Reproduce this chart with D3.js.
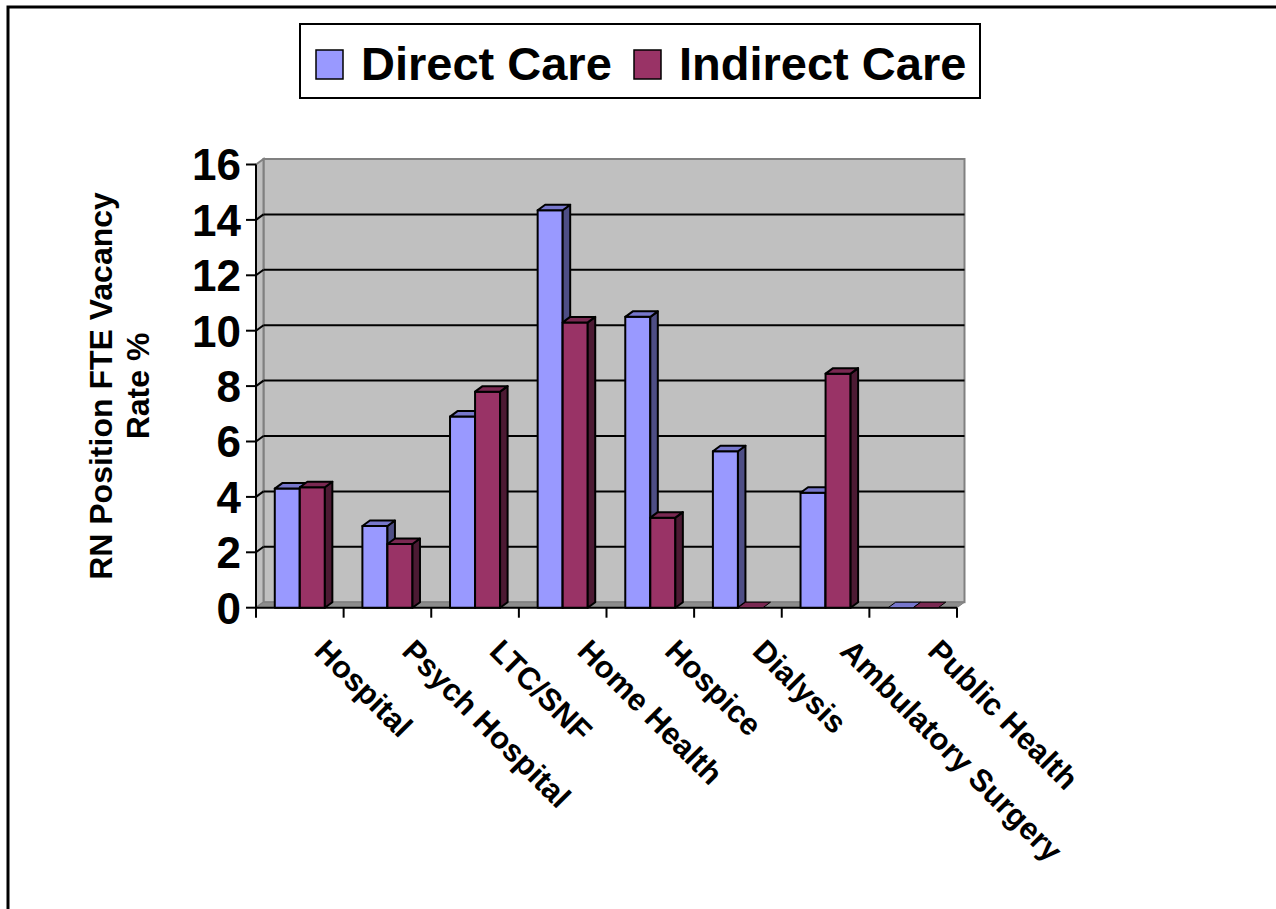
<!DOCTYPE html>
<html>
<head>
<style>
  body { margin: 0; background: #fff; }
  text { font-family: "Liberation Sans", Arial, sans-serif; font-weight: bold; fill: #000; }
</style>
</head>
<body>
<script src="https://d3js.org/d3.v7.min.js"></script>
<script>
// chart values
var categories = ["Hospital", "Psych Hospital", "LTC/SNF", "Home Health", "Hospice", "Dialysis", "Ambulatory Surgery", "Public Health"];
var seriesNames = ["Direct Care", "Indirect Care"];
var directCare = [4.3, 2.95, 6.9, 14.35, 10.5, 5.65, 4.15, 0];
var indirectCare = [4.35, 2.3, 7.8, 10.3, 3.25, 0, 8.45, 0];
var yTicks = [0, 2, 4, 6, 8, 10, 12, 14, 16];

var colors = {
  "Direct Care": { front: "#9999ff", top: "#7777cc", side: "#4e4e85" },
  "Indirect Care": { front: "#993366", top: "#7a2952", side: "#4c1a33" }
};

var W = 1276, H = 909;
var x0 = 256, x1 = 957;      // front floor edge
var y0 = 607.7, yTop = 164.5; // value 0 and 16 on the front plane
var dx = 7.5, dy = 5.5;       // depth offset

var svg = d3.select("body").append("svg")
  .attr("width", W)
  .attr("height", H);

// outer frame (left + top)
svg.append("path")
  .attr("d", "M8," + H + " L8,7 L" + W + ",7")
  .attr("fill", "none")
  .attr("stroke", "#000")
  .attr("stroke-width", 3);

var y = d3.scaleLinear().domain([0, 16]).range([y0, yTop]);
var xCat = d3.scaleBand().domain(categories).range([x0, x1]);
var xSub = d3.scaleBand().domain(seriesNames).range([0, xCat.bandwidth()])
  .paddingInner(0).paddingOuter(0.75);

// walls
svg.append("rect")
  .attr("x", x0 + dx).attr("y", yTop - dy)
  .attr("width", x1 - x0).attr("height", y0 - yTop)
  .attr("fill", "#c0c0c0")
  .attr("stroke", "#808080").attr("stroke-width", 2);

svg.append("polygon")
  .attr("points", [[x0, yTop], [x0 + dx, yTop - dy], [x0 + dx, y0 - dy], [x0, y0]].join(" "))
  .attr("fill", "#c0c0c0")
  .attr("stroke", "#808080").attr("stroke-width", 2);

svg.append("polygon")
  .attr("points", [[x0, y0], [x1, y0], [x1 + dx, y0 - dy], [x0 + dx, y0 - dy]].join(" "))
  .attr("fill", "#8c8c8c")
  .attr("stroke", "#808080").attr("stroke-width", 1);

// gridlines
var grid = svg.append("g");
yTicks.filter(function (d) { return d > 0 && d < 16; }).forEach(function (t) {
  grid.append("line")
    .attr("x1", x0 + dx).attr("x2", x1 + dx)
    .attr("y1", y(t) - dy).attr("y2", y(t) - dy)
    .attr("stroke", "#000").attr("stroke-width", 2);
  grid.append("line")
    .attr("x1", x0).attr("x2", x0 + dx)
    .attr("y1", y(t)).attr("y2", y(t) - dy)
    .attr("stroke", "#000").attr("stroke-width", 2);
});

// y axis
var yAxis = svg.append("g");
yAxis.append("line")
  .attr("x1", x0).attr("x2", x0)
  .attr("y1", yTop).attr("y2", y0)
  .attr("stroke", "#000").attr("stroke-width", 2);
yTicks.forEach(function (t) {
  yAxis.append("line")
    .attr("x1", x0 - 10).attr("x2", x0)
    .attr("y1", y(t)).attr("y2", y(t))
    .attr("stroke", "#000").attr("stroke-width", 2);
  yAxis.append("text")
    .attr("x", 241).attr("y", y(t))
    .attr("dy", "0.36em")
    .attr("text-anchor", "end")
    .style("font-size", "44px")
    .text(t);
});

// x axis
var xAxis = svg.append("g");
xAxis.append("line")
  .attr("x1", x0).attr("x2", x1)
  .attr("y1", y0).attr("y2", y0)
  .attr("stroke", "#000").attr("stroke-width", 2);
categories.concat(["_end"]).forEach(function (c, i) {
  var xx = i < categories.length ? xCat(c) : x1;
  xAxis.append("line")
    .attr("x1", xx).attr("x2", xx)
    .attr("y1", y0).attr("y2", y0 + 10)
    .attr("stroke", "#000").attr("stroke-width", 2);
});
categories.forEach(function (c) {
  var cx = xCat(c) + xCat.bandwidth() / 2 + 13;
  var cy = y0 + 45;
  xAxis.append("text")
    .attr("transform", "translate(" + cx + "," + cy + ") rotate(45)")
    .attr("text-anchor", "start")
    .style("font-size", "31px")
    .text(c);
});

// bars
var bars = svg.append("g");
categories.forEach(function (c, i) {
  var vals = [directCare[i], indirectCare[i]];
  seriesNames.forEach(function (s, j) {
    var col = colors[s];
    var bx = xCat(c) + xSub(s);
    var bw = xSub.bandwidth();
    var yv = y(vals[j]);
    var g = bars.append("g")
      .attr("stroke", "#000").attr("stroke-width", 2)
      .attr("stroke-linejoin", "round");
    if (vals[j] > 0) {
      g.append("rect")
        .attr("x", bx).attr("y", yv)
        .attr("width", bw).attr("height", y0 - yv)
        .attr("fill", col.front);
      g.append("polygon")
        .attr("points", [[bx + bw, yv], [bx + bw + dx, yv - dy], [bx + bw + dx, y0 - dy], [bx + bw, y0]].join(" "))
        .attr("fill", col.side);
    }
    g.append("polygon")
      .attr("points", [[bx, yv], [bx + dx, yv - dy], [bx + bw + dx, yv - dy], [bx + bw, yv]].join(" "))
      .attr("fill", col.top)
      .attr("stroke-width", vals[j] > 0 ? 2 : 1);
  });
});

// legend
var legend = svg.append("g");
legend.append("rect")
  .attr("x", 300).attr("y", 24)
  .attr("width", 680).attr("height", 74)
  .attr("fill", "#fff")
  .attr("stroke", "#000").attr("stroke-width", 2);
var legendX = [316, 634];
seriesNames.forEach(function (s, j) {
  legend.append("rect")
    .attr("x", legendX[j]).attr("y", 50)
    .attr("width", 27).attr("height", 29)
    .attr("fill", colors[s].front)
    .attr("stroke", "#000").attr("stroke-width", 1.5);
  legend.append("text")
    .attr("x", legendX[j] + 45).attr("y", 80)
    .style("font-size", "47px")
    .text(s);
});

// y axis title
var title = svg.append("text")
  .attr("transform", "translate(0,386) rotate(-90)")
  .attr("text-anchor", "middle")
  .style("font-size", "32px");
title.append("tspan").attr("x", 0).attr("y", 112).text("RN Position FTE Vacancy");
title.append("tspan").attr("x", 0).attr("y", 149).text("Rate %");
</script>
</body>
</html>
